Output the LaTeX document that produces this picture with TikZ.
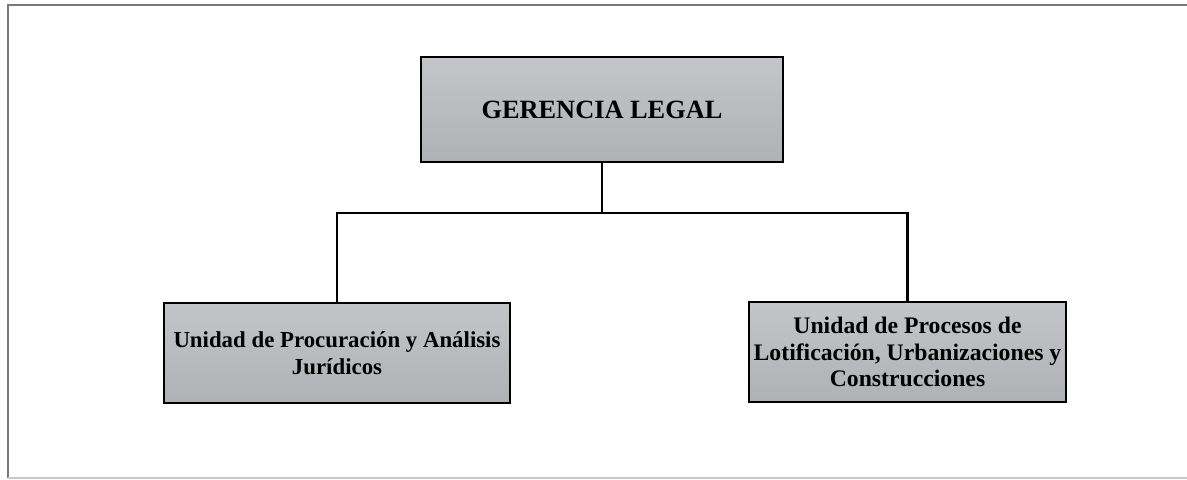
\documentclass[tikz,border=0pt]{standalone}
\usepackage{fontspec}
\setmainfont{Liberation Serif}
\definecolor{boxgray}{RGB}{176,177,180}
\definecolor{boxlight}{RGB}{196,197,200}
\definecolor{framegray}{RGB}{120,120,124}
\tikzset{
  unitbox/.style={draw=black, line width=1.2pt, top color=boxlight, bottom color=boxgray,
    inner sep=0pt, align=center, font=\bfseries\fontsize{13}{15.2}\selectfont},
  link/.style={line width=1.2pt}
}
\begin{document}
\begin{tikzpicture}[x=0.02cm, y=-0.02cm]
    \useasboundingbox (0,0) rectangle (1187,480);
    \draw[framegray, line width=1pt] (1187,5) -- (8,5) -- (8,478);
    \draw[framegray!40, line width=1pt] (8,478) -- (1187,478);

    \node[unitbox, minimum width=7.24cm, minimum height=2.1cm, font=\bfseries\fontsize{15}{17}\selectfont] (gerencia) at (602,109.5) {GERENCIA LEGAL};
    \node[unitbox, minimum width=6.92cm, minimum height=2cm] (procuracion) at (337,353) {Unidad de Procuración y Análisis\\Jurídicos};
    \node[unitbox, minimum width=6.34cm, minimum height=2cm, font=\bfseries\fontsize{13.5}{15.2}\selectfont] (procesos) at (907.5,352) {Unidad de Procesos de\\Lotificación, Urbanizaciones y\\Construcciones};

    \coordinate (split) at (602,213);
    \draw[link] (gerencia) -- (split);
    \draw[link] (procuracion.north) |- (split) -| (procesos.north);
\end{tikzpicture}
\end{document}
